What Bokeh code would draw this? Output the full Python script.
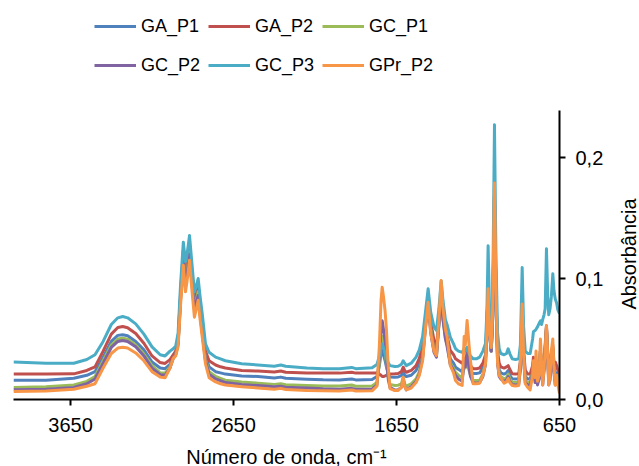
import math
from bokeh.plotting import figure
from bokeh.layouts import row
from bokeh.core.properties import value
from bokeh.models import Range1d, FixedTicker, CustomJSTickFormatter, Legend, LegendItem
from bokeh.embed import file_html
from bokeh.resources import INLINE

# ---------------- data ----------------
wavenumber = [
    4000, 3800, 3630, 3550, 3500, 3450, 3400, 3360, 3330, 3300, 3250, 3200, 3150, 3100,
    3070, 3040, 3020, 3005, 2990, 2975, 2958, 2945, 2935, 2920, 2905, 2890, 2880, 2867,
    2855, 2842, 2822, 2800, 2760, 2730, 2700, 2600, 2500, 2400, 2360, 2330, 2200, 2100,
    2000, 1925, 1900, 1800, 1770, 1755, 1745, 1738, 1730, 1720, 1712, 1700, 1690, 1660,
    1640, 1620, 1609, 1600, 1590, 1560, 1530, 1510, 1490, 1470, 1456, 1440, 1420, 1405,
    1390, 1376, 1365, 1350, 1340, 1320, 1300, 1288, 1270, 1247, 1235, 1228, 1217, 1205,
    1196, 1180, 1160, 1140, 1120, 1104, 1095, 1088, 1080, 1069, 1060, 1049, 1040, 1030,
    1020, 1010, 990, 975, 965, 955, 940, 920, 900, 890, 879, 870, 860, 845,
    830, 815, 810, 800, 794, 785, 775, 767, 760, 753, 745, 738, 730, 722,
    716, 708, 700, 691, 684, 676, 668, 660, 650,
]

gc_p3 = [
    .031, .030, .030, .033, .037, .048, .062, .0675, .0686, .0675, .0625, .054, .0435, .037,
    .036, .040, .042, .044, .055, .095, .130, .114, .120, .1355, .112, .089, .093, .100,
    .085, .071, .046, .039, .035, .0335, .032, .0295, .0285, .0275, .0285, .0275, .026, .0255,
    .0255, .0265, .0255, .0262, .029, .036, .044, .046, .043, .038, .034, .030, .028, .0272,
    .0275, .029, .032, .030, .028, .030, .035, .041, .052, .075, .0915, .072, .060, .057,
    .075, .098, .082, .066, .062, .0515, .046, .0419, .040, .039, .042, .040, .0432, .038,
    .036, .0336, .0336, .035, .040, .0463, .075, .127, .080, .0432, .080, .227, .120, .055,
    .042, .038, .037, .038, .0419, .038, .0336, .033, .0336, .045, .109, .060, .040, .038,
    .038, .050, .056, .057, .058, .060, .063, .065, .062, .066, .070, .075, .1245, .085,
    .070, .075, .085, .104, .090, .083, .080, .074, .071,
]

ga_p2 = [
    .021, .021, .0212, .024, .027, .040, .054, .0595, .0603, .0593, .0545, .0465, .036, .0305,
    .0298, .033, .037, .040, .050, .088, .123, .106, .112, .128, .104, .083, .086, .094,
    .078, .064, .040, .032, .0285, .027, .026, .024, .0235, .0228, .0235, .0225, .022, .0218,
    .0218, .0225, .0218, .022, .022, .021, .020, .019, .019, .0195, .020, .0205, .021, .0212,
    .0215, .023, .0267, .024, .0225, .024, .028, .034, .044, .068, .083, .064, .049, .0432,
    .065, .090, .072, .057, .053, .0405, .037, .0336, .032, .030, .034, .033, .036, .031,
    .028, .0254, .0254, .026, .030, .037, .065, .095, .060, .040, .070, .170, .090, .040,
    .030, .027, .026, .027, .028, .025, .0212, .021, .0212, .032, .075, .040, .024, .021,
    .021, .028, .035, .022, .030, .020, .024, .040, .030, .022, .030, .045, .061, .038,
    .024, .026, .038, .045, .030, .031, .028, .024, .021,
]

ga_p1 = [
    .016, .016, .0175, .020, .023, .035, .048, .053, .0535, .0527, .048, .041, .031, .026,
    .0255, .029, .035, .038, .048, .085, .119, .101, .107, .124, .099, .079, .082, .090,
    .074, .059, .036, .027, .023, .022, .021, .0195, .019, .0178, .0185, .0175, .0168, .0163,
    .0162, .017, .0162, .0165, .019, .028, .038, .0405, .037, .032, .027, .021, .0185, .0184,
    .0186, .020, .0226, .020, .019, .020, .024, .030, .040, .066, .081, .061, .044, .039,
    .063, .088, .068, .053, .048, .0336, .030, .0267, .025, .023, .029, .027, .031, .026,
    .023, .0215, .0215, .022, .026, .034, .062, .092, .057, .040, .068, .168, .088, .035,
    .025, .022, .021, .022, .024, .020, .0171, .017, .0171, .028, .072, .036, .019, .017,
    .017, .024, .031, .018, .028, .016, .020, .040, .027, .018, .026, .042, .060, .035,
    .020, .022, .035, .042, .027, .020, .022, .019, .017,
]

gc_p1 = [
    .010, .0105, .012, .015, .019, .032, .045, .050, .0507, .0498, .045, .0375, .028, .022,
    .0218, .027, .034, .037, .046, .083, .117, .099, .105, .122, .097, .077, .081, .089,
    .072, .056, .033, .023, .019, .0175, .016, .0145, .0135, .0125, .013, .0122, .0115, .0112,
    .0112, .012, .011, .0112, .014, .030, .048, .052, .046, .040, .030, .018, .0125, .0116,
    .0118, .013, .018, .013, .011, .013, .017, .023, .035, .064, .080, .058, .040, .036,
    .062, .087, .067, .051, .046, .030, .026, .0226, .020, .018, .028, .026, .032, .024,
    .020, .0157, .0157, .016, .021, .030, .060, .091, .055, .040, .067, .167, .087, .032,
    .021, .019, .017, .018, .021, .017, .0143, .014, .0143, .026, .071, .034, .016, .014,
    .014, .022, .029, .016, .027, .014, .019, .041, .026, .016, .025, .041, .059, .034,
    .017, .020, .034, .041, .025, .016, .020, .016, .013,
]

gc_p2 = [
    .008, .0085, .010, .013, .017, .030, .043, .048, .0488, .048, .0435, .036, .026, .0205,
    .020, .026, .034, .037, .046, .082, .116, .097, .103, .120, .096, .075, .080, .086,
    .070, .055, .032, .021, .017, .0155, .014, .0125, .0115, .0105, .011, .0102, .0095, .0088,
    .0085, .0092, .0085, .0085, .012, .035, .058, .065, .058, .048, .034, .016, .010, .0078,
    .008, .010, .017, .011, .008, .0105, .015, .021, .034, .063, .079, .055, .039, .035,
    .062, .086, .066, .050, .044, .029, .024, .020, .017, .015, .032, .027, .040, .026,
    .019, .014, .0135, .014, .019, .029, .060, .090, .054, .040, .066, .165, .086, .030,
    .019, .017, .015, .016, .019, .015, .0125, .012, .0125, .025, .070, .033, .014, .012,
    .012, .021, .028, .014, .026, .012, .017, .040, .024, .012, .024, .040, .058, .032,
    .012, .016, .030, .038, .022, .012, .018, .013, .011,
]

gpr_p2 = [
    .0066, .007, .0085, .011, .013, .026, .038, .0425, .0432, .0425, .0385, .032, .023, .0185,
    .018, .026, .034, .036, .044, .078, .111, .089, .098, .115, .090, .068, .074, .082,
    .066, .0515, .0295, .018, .0145, .013, .012, .0105, .0095, .0085, .0092, .0083, .0075, .0072,
    .0070, .0078, .0070, .0072, .011, .045, .082, .0928, .085, .073, .058, .025, .009, .0074,
    .0075, .010, .0184, .011, .008, .0095, .014, .020, .032, .062, .0804, .055, .040, .0364,
    .066, .0983, .075, .058, .052, .028, .022, .0157, .013, .0116, .052, .045, .0653, .045,
    .032, .013, .013, .0135, .020, .0295, .060, .0915, .055, .043, .075, .179, .095, .030,
    .020, .018, .0135, .0145, .0174, .014, .0116, .0112, .0116, .030, .079, .036, .013, .010,
    .008, .020, .032, .018, .040, .015, .020, .050, .030, .012, .025, .040, .061, .035,
    .012, .020, .040, .050, .025, .012, .020, .012, .005,
]

series_names = ["GA_P1", "GA_P2", "GC_P1", "GC_P2", "GC_P3", "GPr_P2"]
series_values = [ga_p1, ga_p2, gc_p1, gc_p2, gc_p3, gpr_p2]
series_colors = ["#4F81BD", "#C0504D", "#9BBB59", "#8064A2", "#4BACC6", "#F79646"]

x_ticks = [3650, 2650, 1650, 650]
y_ticks = [0.0, 0.1, 0.2]
x_start, x_end = 4000, 650
y_axis_min, y_axis_max = 0.0, 0.239   # extent of the drawn value axis
y_title = "Absorbância"
x_title = "Número de onda, cm⁻¹"

FONT = "Liberation Sans"
TXT = "#000000"

# frame spans the legend band too; the value axis is bounded to its own extent
FRAME_H = 399
PX_PER_UNIT = 1210.0
RIGHT_BORDER = 50
p = figure(
    frame_width=546, frame_height=FRAME_H,
    x_range=Range1d(x_start, x_end), y_range=Range1d(0.0, FRAME_H / PX_PER_UNIT),
    y_axis_location="right",
    output_backend="svg", toolbar_location=None,
    min_border_left=13, min_border_top=0, min_border_right=RIGHT_BORDER, min_border_bottom=0,
)
p.outline_line_color = None
p.grid.visible = False
p.background_fill_color = "white"
p.border_fill_color = "white"

items = []
for name, vals, col in zip(series_names, series_values, series_colors):
    r = p.line(wavenumber, vals, line_color=col, line_width=3, line_join="round")
    items.append(LegendItem(label=name, renderers=[r]))

# axes
xa = p.xaxis[0]
xa.ticker = FixedTicker(ticks=x_ticks)
xa.axis_label = x_title
ya = p.yaxis[0]
ya.ticker = FixedTicker(ticks=y_ticks)
ya.bounds = (y_axis_min, y_axis_max)
ya.formatter = CustomJSTickFormatter(code="return tick.toFixed(1).replace('.', ',');")

for ax in (xa, ya):
    ax.axis_line_color = TXT
    ax.axis_line_width = 2
    ax.major_tick_line_color = TXT
    ax.major_tick_line_width = 2
    ax.major_tick_out = 6
    ax.major_tick_in = 0
    ax.minor_tick_out = 0
    ax.minor_tick_in = 0
    ax.major_label_text_font = FONT
    ax.major_label_text_font_size = "20px"
    ax.major_label_text_color = TXT
    ax.axis_label_text_font = FONT
    ax.axis_label_text_font_size = "20px"
    ax.axis_label_text_font_style = "normal"
    ax.axis_label_text_color = TXT

xa.major_label_standoff = 12
xa.axis_label_standoff = 11
ya.major_label_standoff = 10

legend = Legend(
    items=items, orientation="horizontal", ncols=3,
    location=(81, 317),
    label_text_font=FONT, label_text_font_size="18px", label_text_color=TXT,
    glyph_width=42, glyph_height=34, label_height=34, label_width=62,
    label_standoff=5, spacing=5, padding=0, margin=0,
    border_line_color=None, background_fill_alpha=0,
)
p.add_layout(legend, "center")

# narrow strip to the right carrying the value-axis title (reads bottom-to-top);
# its frame lines up with the main frame (0..FRAME_H px from the top)
SIDE_W = 639 - (13 + 546 + RIGHT_BORDER)
side = figure(
    frame_width=SIDE_W, frame_height=FRAME_H,
    x_range=Range1d(0, SIDE_W), y_range=Range1d(FRAME_H, 0),
    x_axis_location=None, y_axis_location=None,
    output_backend="svg", toolbar_location=None,
    min_border=0,
)
side.outline_line_color = None
side.grid.visible = False
side.background_fill_color = "white"
side.border_fill_color = "white"
side.text(
    x=[628.0 - (13 + 546 + RIGHT_BORDER)], y=[253.5], text=[y_title],
    angle=math.pi / 2, text_align="center", text_baseline="middle",
    text_font=value(FONT), text_font_size="20px", text_color=TXT,
)

layout = row(p, side, spacing=0)
open("out.html", "w").write(file_html(layout, INLINE))
